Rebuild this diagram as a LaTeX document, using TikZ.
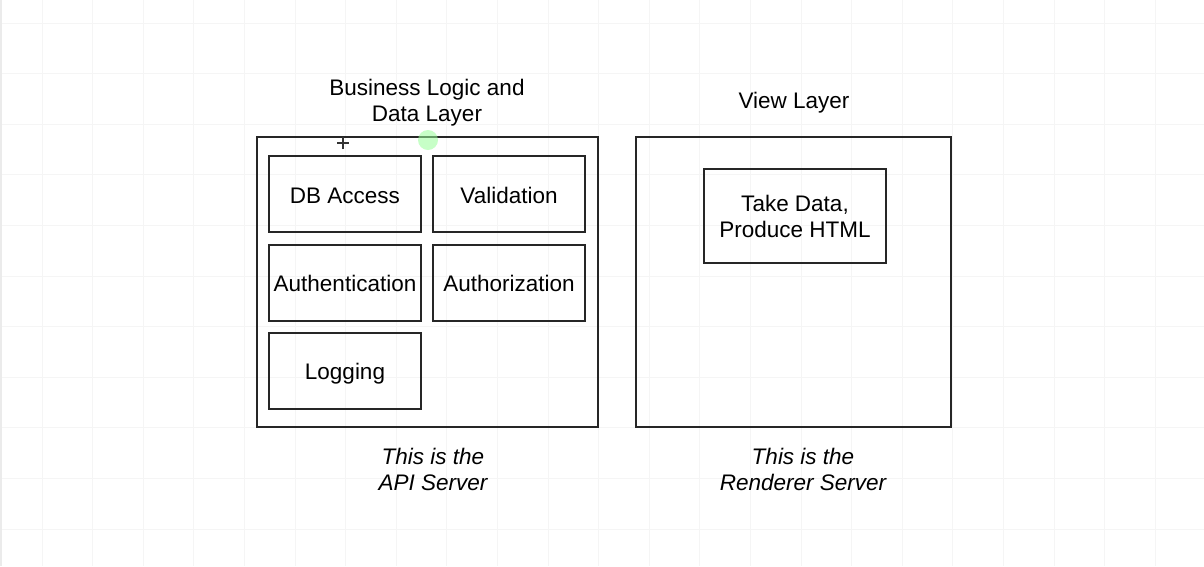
\documentclass[tikz,border=0pt]{standalone}
\usepackage{fontspec}
\setmainfont{Liberation Sans}
\begin{document}
\begin{tikzpicture}[x=1pt,y=-1pt,
  outerbox/.style={draw=black!85,line width=2pt,minimum width=#1,minimum height=290pt,inner sep=0pt},
  innerbox/.style={draw=black!85,line width=2pt,minimum width=152pt,minimum height=76pt,inner sep=0pt,font=\fontsize{22.5pt}{26pt}\selectfont,text height=18pt,text depth=0pt},
  lbl/.style={align=center,inner sep=0pt,font=\fontsize{22.5pt}{26pt}\selectfont},
  ilbl/.style={lbl,font=\fontsize{22.5pt}{26pt}\selectfont\itshape}]
\useasboundingbox (0,0) rectangle (1204,566);
\fill[white] (0,0) rectangle (1204,566);
% background grid
\foreach \i in {0,...,23} {\draw[black!4,line width=0.8pt] (42+50.6*\i,0) -- (42+50.6*\i,566);}
\foreach \j in {0,...,11} {\draw[black!4,line width=0.8pt] (0,23+50.6*\j) -- (1204,23+50.6*\j);}
\draw[black!8,line width=1.5pt] (1,0) -- (1,566);
% outer boxes
\node[outerbox=341pt] (api) at (427.5,282) {};
\node[outerbox=315pt] (ren) at (793.5,282) {};
% inner boxes
\node[innerbox] (db) at (345,194) {DB Access};
\node[innerbox] (val) at (509,194) {Validation};
\node[innerbox] (authn) at (345,282.5) {Authentication};
\node[innerbox] (authz) at (509,282.5) {Authorization};
\node[innerbox] (log) at (345,370.5) {Logging};
\node[draw=black!85,line width=2pt,minimum width=182pt,minimum height=94pt,inner sep=0pt,align=center,font=\fontsize{22.5pt}{26pt}\selectfont] (take) at (795,216) {Take Data,\\Produce HTML};
% labels
\node[lbl] (t1) at (427,103) {Business Logic and\\Data Layer};
\node[lbl] (t2) at (794,103) {View Layer};
\node[ilbl] (b1) at (433,469) {This is the\\API Server};
\node[ilbl] (b2) at (803,469) {This is the\\Renderer Server};
% screenshot artifacts
\fill[green!40!white,opacity=0.55] (428,140) circle (10);
\coordinate (cur) at (343,143);
\draw[black!80,line width=1.8pt] ([xshift=-6pt]cur) -- ([xshift=6pt]cur) ([yshift=-6pt]cur) -- ([yshift=6pt]cur);
\end{tikzpicture}
\end{document}
